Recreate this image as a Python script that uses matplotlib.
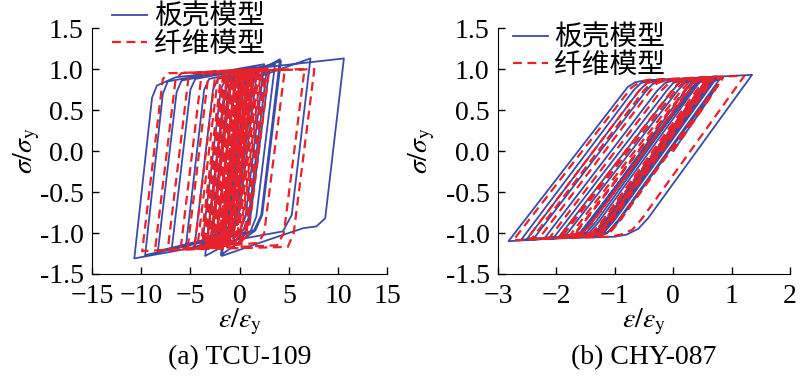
import matplotlib
matplotlib.use("Agg")
import matplotlib.pyplot as plt

plt.rcParams["font.family"] = ["Liberation Serif", "Noto Sans CJK SC"]
plt.rcParams["mathtext.fontset"] = "stix"
plt.rcParams["axes.unicode_minus"] = True

# (a) TCU-109 -- shell model (solid blue), turning / corner points
a_shell_x = [0.0, 0.85, 1.5, 4.1,
             2.2, 1.5, -3.5,
             -1.6, -1.0, 4.2,
             2.3, 1.6, -1.9,
             0.0, 0.6, 7.2,
             5.3, 4.4, -10.7,
             -8.9, -8.4, -6.5, 10.6,
             8.7, 7.8, 6.5, 5.0, 3.0, -1.8,
             0.1, 0.6, 3.0,
             1.1, 0.5, -9.6,
             -7.8, -7.3, 2.5,
             0.6, 0.0, -8.3,
             -6.4, -5.9, 1.6,
             -0.3, -0.9, -6.9,
             -5.0, -4.5, 3.6,
             1.7, 1.1, -5.5,
             -3.6, -3.1, 2.8,
             0.9, 0.3, -4.6,
             -2.7, -2.2, 1.8,
             -0.1, -0.7, -3.0,
             -1.1, -0.6, 1.4,
             -0.5, -1.0, -2.4,
             -0.5, 0.0, 1.0,
             -0.9, -1.4, -1.9,
             0.0, 0.5, 0.8,
             -1.1, -1.6, -3.8,
             -1.9, -1.4, 0.6,
             -1.3, -1.8, -3.3,
             -1.4, -0.9, 0.2,
             -1.7, -2.2, -2.8,
             -0.9, -0.4, 0.4,
             -1.5, -2.0, -2.3,
             -0.4, 0.0]
a_shell_y = [0.0, 0.85, 0.95, 1.12,
             -0.78, -0.96, -1.28,
             0.68, 0.88, 1.10,
             -0.78, -0.97, -1.27,
             0.62, 0.85, 1.13,
             -0.78, -0.98, -1.31,
             0.65, 0.80, 0.90, 1.13,
             -0.82, -0.92, -0.94, -1.00, -1.08, -1.28,
             0.62, 0.85, 0.98,
             -0.80, -1.00, -1.27,
             0.70, 0.85, 1.06,
             -0.80, -0.98, -1.22,
             0.72, 0.86, 1.03,
             -0.82, -1.00, -1.20,
             0.75, 0.88, 1.06,
             -0.80, -0.98, -1.20,
             0.75, 0.88, 1.03,
             -0.82, -0.98, -1.18,
             0.75, 0.88, 1.00,
             -0.82, -0.98, -1.12,
             0.78, 0.90, 0.98,
             -0.82, -0.98, -1.08,
             0.80, 0.90, 0.96,
             -0.85, -0.98, -1.02,
             0.85, 0.92, 0.94,
             -0.82, -0.98, -1.14,
             0.76, 0.88, 0.96,
             -0.84, -0.98, -1.10,
             0.78, 0.90, 0.94,
             -0.84, -0.98, -1.04,
             0.80, 0.90, 0.93,
             -0.85, -0.98, -1.00,
             0.82, 0.88]

# (a) TCU-109 -- fiber model (dashed red)
a_fiber_x = [0.0, 0.95, 1.5, 3.0,
             0.9, 0.3, -3.0,
             -0.9, -0.4, 2.2,
             0.1, -0.5, -2.6,
             -0.5, 0.0, 1.8,
             -0.3, -1.0, -4.0,
             -1.9, -1.3, 4.6,
             2.5, 1.9, -5.3,
             -3.2, -2.6, 6.6,
             4.5, 3.8, -9.9,
             -7.8, -7.2, 7.6,
             5.5, 4.9, -8.6,
             -6.5, -5.9, 2.8,
             0.7, 0.1, -7.3,
             -5.2, -4.6, 2.3,
             0.2, -0.4, -6.0,
             -3.9, -3.3, 1.9,
             -0.2, -0.8, -4.6,
             -2.5, -1.9, 2.6,
             0.5, -0.1, -3.4,
             -1.3, -0.8, 1.4,
             -0.7, -1.2, -2.8,
             -0.7, -0.2, 1.7,
             -0.4, -1.0, -2.2,
             -0.1, 0.4, 1.2,
             -0.9, -1.4, -2.5,
             -0.4, 0.1, 0.9,
             -1.1, -1.6, -1.9,
             0.2, 0.6, 2.0,
             -0.1, -0.6, -1.5,
             0.6, 1.0, 1.5,
             -0.6, -1.1, -1.7,
             0.4, 0.9, 1.1,
             -1.0, -1.4, -2.0,
             0.1, 0.5, 0.8,
             -1.2, -1.5, -1.6,
             0.5, 0.8, 1.0,
             -1.1, -1.6, -3.6,
             -1.5, -1.0, 0.6,
             -1.5, -2.0, -3.2,
             -1.1, -0.6, 1.3,
             -0.8, -1.3, -4.3,
             -2.2, -1.7, 0.3,
             -1.8, -2.3, -2.9,
             -0.8, -0.3, 0.5,
             -1.6, -2.1, -3.8,
             -1.7, -1.2, -0.2,
             -2.3, -2.8, -3.3,
             -1.2, -0.7, 0.0,
             -2.1, -2.6, -2.8,
             -0.7, -0.2, 0.3,
             -1.8, -2.3, -2.5,
             -0.4, 0.1]
a_fiber_y = [0.0, 0.92, 0.97, 0.99,
             -1.00, -1.12, -1.18,
             0.90, 0.97, 1.00,
             -1.00, -1.12, -1.17,
             0.92, 0.98, 1.00,
             -1.02, -1.13, -1.19,
             0.90, 0.97, 1.00,
             -1.00, -1.12, -1.20,
             0.90, 0.97, 1.00,
             -1.00, -1.15, -1.22,
             0.88, 0.95, 1.00,
             -1.00, -1.17, -1.21,
             0.88, 0.95, 1.01,
             -1.00, -1.13, -1.20,
             0.89, 0.95, 1.00,
             -1.00, -1.12, -1.20,
             0.90, 0.96, 1.00,
             -1.00, -1.12, -1.19,
             0.90, 0.97, 1.00,
             -1.00, -1.12, -1.18,
             0.90, 0.96, 0.99,
             -1.00, -1.10, -1.17,
             0.92, 0.97, 1.00,
             -1.02, -1.12, -1.16,
             0.92, 0.97, 0.99,
             -1.02, -1.10, -1.16,
             0.92, 0.97, 0.98,
             -1.00, -1.10, -1.14,
             0.93, 0.97, 1.00,
             -1.00, -1.10, -1.14,
             0.93, 0.97, 0.99,
             -1.02, -1.10, -1.15,
             0.92, 0.96, 0.98,
             -1.02, -1.09, -1.15,
             0.92, 0.96, 0.97,
             -1.00, -1.06, -1.07,
             0.90, 0.94, 0.95,
             -1.00, -1.08, -1.17,
             0.90, 0.96, 0.98,
             -1.00, -1.10, -1.15,
             0.92, 0.96, 0.99,
             -1.00, -1.10, -1.18,
             0.90, 0.96, 0.98,
             -1.00, -1.10, -1.14,
             0.92, 0.96, 0.97,
             -1.00, -1.09, -1.16,
             0.90, 0.95, 0.97,
             -1.00, -1.09, -1.13,
             0.92, 0.96, 0.97,
             -1.00, -1.08, -1.10,
             0.92, 0.95, 0.96,
             -1.00, -1.07, -1.08,
             0.90, 0.93]

# (b) CHY-087 -- shell model
b_shell_x = [0.00, 0.60, 0.75,
             -1.00, -1.15, -1.35,
             0.50, 0.62, 0.80,
             -0.95, -1.12, -1.30, -2.40,
             -0.48, -0.35, -0.15, 0.76,
             -1.00, -1.17, -1.37, -1.60,
             0.32, 0.45, 0.62, 0.70,
             -1.07, -1.24, -1.44, -2.82,
             -0.78, -0.65, -0.50, 1.35,
             -0.43, -0.60, -0.80, -1.00, -2.60,
             -0.68, -0.55, -0.38, 0.60,
             -1.16, -1.33, -1.52, -2.05,
             -0.12, 0.00, 0.18, 0.50,
             -1.27, -1.44, -1.62, -1.85,
             0.08, 0.20, 0.38, 0.62,
             -1.15, -1.32, -1.50, -2.20,
             -0.27, -0.14, 0.04, 0.45,
             -1.32, -1.48, -1.62,
             0.30, 0.42, 0.58, 0.72,
             -1.05, -1.22, -1.40, -2.50,
             -0.58, -0.45, -0.28, 0.35,
             -1.42, -1.58, -1.75, -1.95,
             0.00, 0.12, 0.30, 0.66,
             -1.10, -1.25, -1.30,
             0.60, -0.30]
b_shell_y = [0.00, 0.62, 0.80,
             -0.92, -1.01, -1.04,
             0.72, 0.83, 0.88,
             -0.85, -0.99, -1.03, -1.08,
             0.72, 0.82, 0.86, 0.91,
             -0.84, -0.98, -1.03, -1.05,
             0.74, 0.84, 0.88, 0.89,
             -0.86, -1.00, -1.04, -1.10,
             0.78, 0.84, 0.86, 0.93,
             -0.82, -0.95, -1.02, -1.045, -1.08,
             0.74, 0.83, 0.86, 0.90,
             -0.85, -0.99, -1.03, -1.06,
             0.73, 0.83, 0.87, 0.89,
             -0.86, -1.00, -1.03, -1.04,
             0.74, 0.83, 0.87, 0.88,
             -0.86, -0.99, -1.02, -1.06,
             0.74, 0.83, 0.87, 0.89,
             -0.86, -0.99, -1.02,
             0.76, 0.84, 0.87, 0.88,
             -0.86, -0.99, -1.03, -1.07,
             0.74, 0.83, 0.86, 0.88,
             -0.86, -0.99, -1.02, -1.04,
             0.75, 0.84, 0.87, 0.89,
             -0.86, -0.99, -1.00,
             0.80, -0.10]

# (b) CHY-087 -- fiber model
b_fiber_x = [0.00, 0.62, 0.80,
             -0.98, -1.12, -1.40,
             0.45, 0.57, 0.85,
             -0.92, -1.08, -1.26, -2.30,
             -0.40, -0.27, -0.08, 0.72,
             -1.05, -1.22, -1.40, -1.72,
             0.22, 0.35, 0.52, 0.66,
             -1.12, -1.29, -1.48, -2.74,
             -0.72, -0.58, -0.42, 1.22,
             -0.53, -0.70, -0.90, -1.08, -2.50,
             -0.58, -0.45, -0.28, 0.66,
             -1.10, -1.27, -1.46, -1.95,
             -0.02, 0.10, 0.28, 0.55,
             -1.22, -1.39, -1.56, -1.78,
             0.15, 0.27, 0.45, 0.58,
             -1.19, -1.36, -1.55, -2.12,
             -0.20, -0.07, 0.10, 0.40,
             -1.37, -1.52, -1.70,
             0.22, 0.34, 0.50, 0.68,
             -1.10, -1.27, -1.45, -2.42,
             -0.50, -0.37, -0.20, 0.42,
             -1.38, -1.54, -1.70, -1.90,
             0.05, 0.18, 0.35, 0.62,
             -1.12, -1.25,
             0.50, -0.40]
b_fiber_y = [0.00, 0.64, 0.84,
             -0.90, -1.00, -1.04,
             0.73, 0.84, 0.89,
             -0.86, -0.99, -1.03, -1.07,
             0.73, 0.83, 0.87, 0.91,
             -0.85, -0.99, -1.03, -1.05,
             0.75, 0.85, 0.88, 0.89,
             -0.87, -1.00, -1.04, -1.09,
             0.77, 0.84, 0.87, 0.92,
             -0.82, -0.96, -1.02, -1.045, -1.07,
             0.74, 0.83, 0.86, 0.90,
             -0.85, -0.99, -1.03, -1.05,
             0.74, 0.84, 0.87, 0.89,
             -0.86, -1.00, -1.03, -1.04,
             0.75, 0.84, 0.87, 0.88,
             -0.86, -0.99, -1.02, -1.06,
             0.74, 0.83, 0.87, 0.89,
             -0.86, -0.99, -1.02,
             0.76, 0.84, 0.87, 0.88,
             -0.86, -0.99, -1.03, -1.07,
             0.74, 0.83, 0.86, 0.88,
             -0.86, -0.99, -1.02, -1.04,
             0.75, 0.84, 0.87, 0.89,
             -0.86, -0.98,
             0.75, -0.20]

labels = ["板壳模型", "纤维模型"]
captions = ["(a) TCU-109", "(b) CHY-087"]
a_xticks = [-15, -10, -5, 0, 5, 10, 15]
b_xticks = [-3, -2, -1, 0, 1, 2]
yticks = [-1.5, -1.0, -0.5, 0.0, 0.5, 1.0, 1.5]

blue = "#3a4ca6"
red = "#e8212b"
fs = 20

fig = plt.figure(figsize=(8, 3.8), dpi=100)
ax1 = fig.add_axes([0.115, 0.279, 0.369, 0.647])
ax2 = fig.add_axes([0.6225, 0.279, 0.365, 0.647])

panels = [
    (ax1, a_shell_x, a_shell_y, a_fiber_x, a_fiber_y, a_xticks, (-15, 15), -0.22),
    (ax2, b_shell_x, b_shell_y, b_fiber_x, b_fiber_y, b_xticks, (-3, 2), -0.26),
]

for i, (ax, sx, sy, fx, fy, xt, xl, ylab_x) in enumerate(panels):
    ax.plot(sx, sy, color=blue, lw=1.3, label=labels[0])
    ax.plot(fx, fy, color=red, lw=1.6, ls=(0, (4, 2.5)), label=labels[1])
    ax.set_xlim(*xl)
    ax.set_ylim(-1.5, 1.5)
    ax.set_xticks(xt)
    ax.set_yticks(yticks)
    ax.set_yticklabels([f"{v:.1f}" for v in yticks])
    ax.spines["top"].set_visible(False)
    ax.spines["right"].set_visible(False)
    ax.tick_params(direction="in", length=5, width=1, labelsize=fs)
    ax.tick_params(axis="x", pad=7)
    ax.tick_params(axis="y", pad=6)
    ax.set_xlabel(r"$\varepsilon/\varepsilon_{\mathrm{y}}$", fontsize=fs, va="center")
    ax.xaxis.set_label_coords(0.5, -0.195)
    ax.set_ylabel(r"$\sigma/\sigma_{\mathrm{y}}$", fontsize=fs, va="center")
    ax.yaxis.set_label_coords(ylab_x, 0.5)
    ax.text(0.5, -0.34, captions[i], transform=ax.transAxes, ha="center",
            va="center", fontsize=fs)

leg_kw = dict(frameon=False, handlelength=1.25, handletextpad=0.25, labelspacing=-0.1,
              prop={"family": "Noto Sans CJK SC", "size": fs}, borderpad=0,
              borderaxespad=0, loc="center left", bbox_transform=fig.transFigure)
ax1.legend(bbox_to_anchor=(0.14, 0.92), **leg_kw)
ax2.legend(bbox_to_anchor=(0.641, 0.866), **leg_kw)

fig.savefig("out.png", dpi=100)
